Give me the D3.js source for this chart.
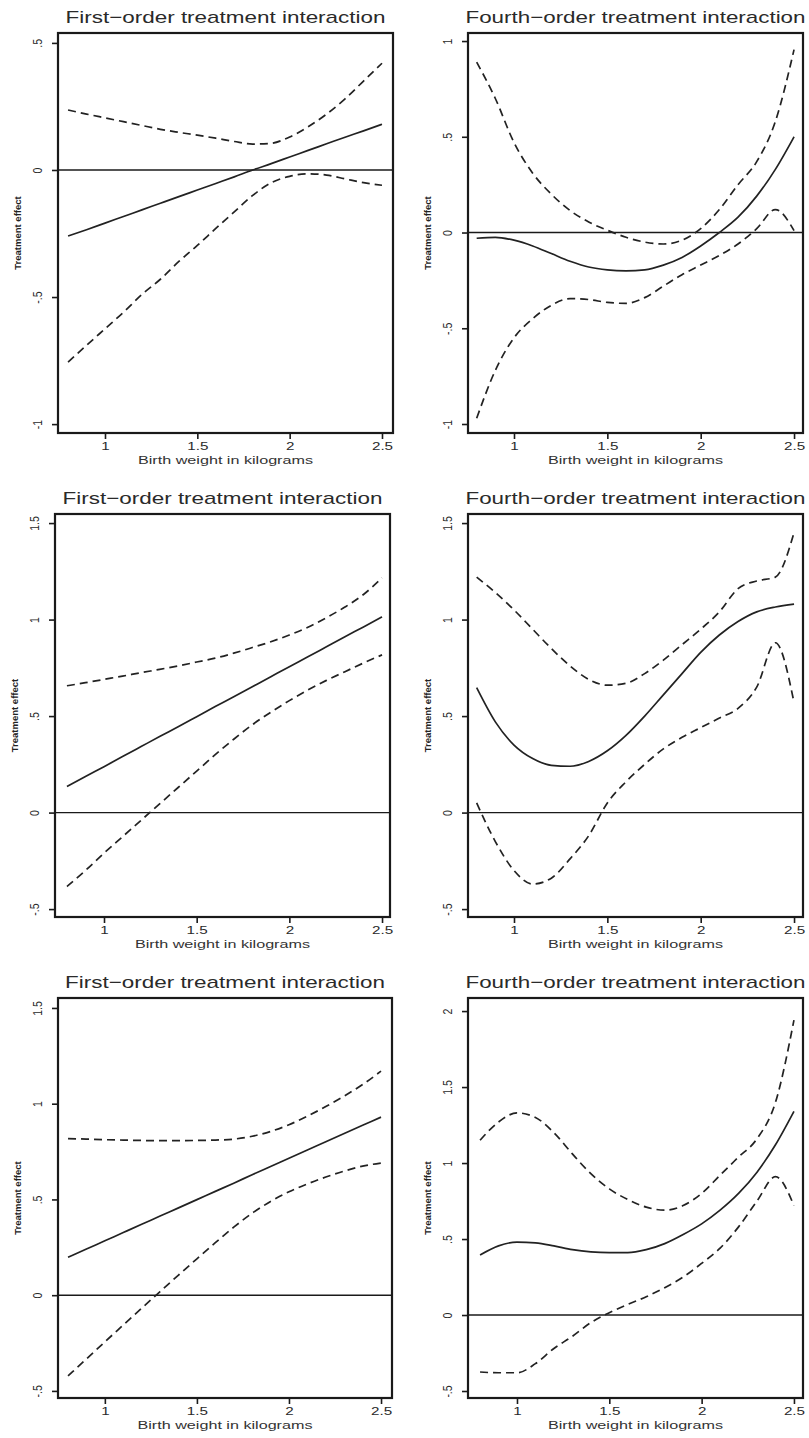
<!DOCTYPE html>
<html><head><meta charset="utf-8">
<script src="https://cdn.jsdelivr.net/npm/d3@7"></script>
<style>body{margin:0;background:#fff;}svg{display:block;font-family:Arial,"Liberation Sans",sans-serif;}</style>
</head><body>
<script>
// ---------- data ----------
const xGrid = [0.8,0.9,1.0,1.1,1.2,1.3,1.4,1.5,1.6,1.7,1.8,1.9,2.0,2.1,2.2,2.3,2.4,2.5];
const xTicks = [1,1.5,2,2.5];
const xTickLabels = ["1","1.5","2","2.5"];
const titles = ["First\u2212order treatment interaction","Fourth\u2212order treatment interaction",
                "First\u2212order treatment interaction","Fourth\u2212order treatment interaction",
                "First\u2212order treatment interaction","Fourth\u2212order treatment interaction"];
const xAxisTitle = "Birth weight in kilograms";
const yAxisTitle = "Treatment effect";

const yTicks1 = [0.5,0,-0.5,-1];        const yTickLabels1 = [".5","0","-.5","-1"];
const yTicks2 = [1,0.5,0,-0.5,-1];      const yTickLabels2 = ["1",".5","0","-.5","-1"];
const yTicks3 = [1.5,1,0.5,0,-0.5];     const yTickLabels3 = ["1.5","1",".5","0","-.5"];
const yTicks4 = [1.5,1,0.5,0,-0.5];     const yTickLabels4 = ["1.5","1",".5","0","-.5"];
const yTicks5 = [1.5,1,0.5,0,-0.5];     const yTickLabels5 = ["1.5","1",".5","0","-.5"];
const yTicks6 = [2,1.5,1,0.5,0,-0.5];   const yTickLabels6 = ["2","1.5","1",".5","0","-.5"];

// panel 1: first-order
const est1 = [-0.26,-0.235,-0.209,-0.183,-0.157,-0.131,-0.105,-0.079,-0.053,-0.027,0.0,0.025,0.051,0.077,0.103,0.129,0.154,0.18];
const hi1  = [0.236,0.22,0.205,0.19,0.175,0.16,0.148,0.137,0.125,0.112,0.102,0.105,0.13,0.17,0.22,0.28,0.35,0.42];
const lo1  = [-0.756,-0.69,-0.625,-0.56,-0.49,-0.43,-0.36,-0.297,-0.23,-0.165,-0.10,-0.05,-0.025,-0.015,-0.02,-0.035,-0.05,-0.06];
// panel 2: fourth-order
const est2 = [-0.03,-0.025,-0.04,-0.07,-0.11,-0.15,-0.18,-0.195,-0.2,-0.195,-0.17,-0.13,-0.07,0.0,0.08,0.19,0.33,0.5];
const hi2  = [0.89,0.70,0.47,0.31,0.20,0.115,0.055,0.012,-0.025,-0.05,-0.06,-0.04,0.02,0.12,0.25,0.37,0.58,0.955];
const lo2  = [-0.97,-0.72,-0.55,-0.45,-0.38,-0.345,-0.35,-0.365,-0.37,-0.34,-0.28,-0.22,-0.17,-0.12,-0.06,0.02,0.12,0.01];
// panel 3: first-order
const est3 = [0.135,0.187,0.238,0.29,0.342,0.394,0.445,0.497,0.549,0.6,0.652,0.704,0.756,0.807,0.859,0.911,0.962,1.014];
const hi3  = [0.657,0.673,0.69,0.707,0.725,0.742,0.76,0.78,0.80,0.826,0.855,0.885,0.92,0.96,1.01,1.065,1.13,1.216];
const lo3  = [-0.383,-0.30,-0.21,-0.125,-0.04,0.045,0.13,0.215,0.30,0.38,0.455,0.52,0.58,0.635,0.685,0.73,0.775,0.817];
// panel 4: fourth-order
const est4 = [0.647,0.47,0.35,0.28,0.245,0.24,0.265,0.32,0.40,0.50,0.61,0.72,0.83,0.92,0.99,1.04,1.065,1.08];
const hi4  = [1.22,1.14,1.05,0.95,0.85,0.76,0.69,0.66,0.67,0.72,0.79,0.87,0.95,1.04,1.16,1.20,1.22,1.45];
const lo4  = [0.05,-0.15,-0.30,-0.37,-0.34,-0.24,-0.12,0.05,0.16,0.25,0.33,0.39,0.44,0.49,0.54,0.65,0.88,0.57];
// panel 5: first-order
const est5 = [0.198,0.241,0.284,0.327,0.37,0.413,0.456,0.499,0.542,0.585,0.629,0.672,0.715,0.758,0.801,0.844,0.887,0.93];
const hi5  = [0.818,0.815,0.812,0.81,0.808,0.807,0.807,0.808,0.81,0.815,0.83,0.855,0.89,0.935,0.985,1.04,1.10,1.17];
const lo5  = [-0.422,-0.333,-0.244,-0.156,-0.068,0.019,0.105,0.19,0.274,0.355,0.428,0.489,0.54,0.581,0.617,0.648,0.674,0.69];
// panel 6: fourth-order
const est6 = [0.395,0.455,0.48,0.475,0.455,0.43,0.415,0.41,0.41,0.43,0.47,0.53,0.60,0.69,0.80,0.94,1.12,1.34];
const hi6  = [1.15,1.27,1.33,1.30,1.20,1.06,0.93,0.83,0.76,0.71,0.69,0.72,0.80,0.92,1.04,1.16,1.40,1.94];
const lo6  = [-0.375,-0.38,-0.38,-0.32,-0.22,-0.14,-0.05,0.015,0.07,0.12,0.18,0.25,0.34,0.44,0.58,0.75,0.91,0.72];

// ---------- layout (pixels / scale extents) ----------
const layout = [
  {l:58,  r:393, t:33,  b:433,  xd:[0.7455,2.5596], yd:[-1.035,0.539]},
  {l:468, r:803, t:33,  b:433,  xd:[0.7536,2.548],  yd:[-1.047,1.042]},
  {l:55,  r:390, t:514, b:917,  xd:[0.7356,2.543],  yd:[-0.541,1.547]},
  {l:468, r:803, t:514, b:917,  xd:[0.7536,2.548],  yd:[-0.541,1.547]},
  {l:58,  r:392, t:998, b:1398, xd:[0.7455,2.5596], yd:[-0.537,1.552]},
  {l:468, r:803, t:998, b:1398, xd:[0.7347,2.549],  yd:[-0.546,2.086]}
];
const yTickSets = [yTicks1,yTicks2,yTicks3,yTicks4,yTicks5,yTicks6];
const yTickLabelSets = [yTickLabels1,yTickLabels2,yTickLabels3,yTickLabels4,yTickLabels5,yTickLabels6];
const series = [[est1,hi1,lo1],[est2,hi2,lo2],[est3,hi3,lo3],[est4,hi4,lo4],[est5,hi5,lo5],[est6,hi6,lo6]];

const W = 809, H = 1438;
const svg = d3.select("body").append("svg").attr("width",W).attr("height",H);
const ink = "#1a1a1a";
const SX = 1.45; // horizontal stretch of text in the reference

layout.forEach((L,i) => {
  const x = d3.scaleLinear().domain(L.xd).range([L.l,L.r]);
  const y = d3.scaleLinear().domain(L.yd).range([L.b,L.t]);
  const g = svg.append("g");

  // zero line
  g.append("line").attr("x1",L.l).attr("x2",L.r).attr("y1",y(0)).attr("y2",y(0))
    .attr("stroke",ink).attr("stroke-width",1.4);

  const line = d3.line().x((d,j)=>x(xGrid[j])).y(d=>y(d)).curve(d3.curveMonotoneX);
  const [est,hi,lo] = series[i];
  [hi,lo].forEach(s => g.append("path").attr("d",line(s)).attr("fill","none")
      .attr("stroke","#222").attr("stroke-width",1.7).attr("stroke-dasharray","8,5"));
  g.append("path").attr("d",line(est)).attr("fill","none").attr("stroke","#222").attr("stroke-width",1.7);

  // frame
  g.append("rect").attr("x",L.l).attr("y",L.t).attr("width",L.r-L.l).attr("height",L.b-L.t)
    .attr("fill","none").attr("stroke",ink).attr("stroke-width",2.2);

  // y axis
  const ya = g.append("g").attr("transform",`translate(${L.l},0)`)
    .call(d3.axisLeft(y).tickValues(yTickSets[i]).tickSize(6).tickFormat((d,j)=>yTickLabelSets[i][j]));
  ya.select(".domain").remove();
  ya.selectAll(".tick line").attr("stroke",ink).attr("stroke-width",1.6);
  ya.selectAll(".tick text").attr("x",null).attr("dy",null).attr("text-anchor","middle")
    .attr("font-size",10.5).attr("fill","#2a2a2a")
    .attr("transform",`translate(-21,0) scale(1.25,1) rotate(-90)`).attr("dy","0.35em");

  // x axis
  const xa = g.append("g").attr("transform",`translate(0,${L.b})`)
    .call(d3.axisBottom(x).tickValues(xTicks).tickSize(6).tickFormat((d,j)=>xTickLabels[j]));
  xa.select(".domain").remove();
  xa.selectAll(".tick line").attr("stroke",ink).attr("stroke-width",1.6);
  xa.selectAll(".tick text").attr("y",null).attr("dy",null)
    .attr("font-size",10.5).attr("fill","#2a2a2a")
    .attr("transform",`translate(0,13) scale(${SX},1)`).attr("dy","0.35em");

  // titles
  const cx = (L.l+L.r)/2;
  g.append("text").attr("x",cx).attr("y",L.t-10).attr("text-anchor","middle")
    .attr("font-size",17).attr("fill","#2a2a2a")
    .attr("textLength", i%2===0 ? 320 : 340).attr("lengthAdjust","spacingAndGlyphs")
    .text(titles[i]);
  g.append("text").attr("text-anchor","middle").attr("font-size",10).attr("fill","#333")
    .attr("transform",`translate(${cx},${L.b+31})`)
    .attr("textLength",175).attr("lengthAdjust","spacingAndGlyphs")
    .text(xAxisTitle);
  g.append("text").attr("text-anchor","middle").attr("font-size",9.5).attr("fill","#222")
    .attr("font-weight","bold")
    .attr("transform",`translate(${L.l-40},${(L.t+L.b)/2}) rotate(-90)`)
    .attr("dy","0.35em")
    .text(yAxisTitle);
});
</script>
</body></html>
